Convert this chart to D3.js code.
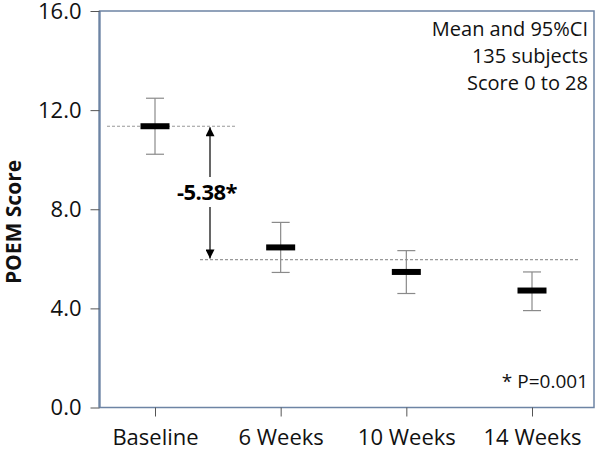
<!DOCTYPE html>
<html><head><meta charset="utf-8">
<script src="https://cdn.jsdelivr.net/npm/d3@7"></script>
<style>body{margin:0;background:#fff}svg{display:block}</style>
</head><body>
<svg id="c" width="600" height="451"></svg>
<script>
const categories = ["Baseline", "6 Weeks", "10 Weeks", "14 Weeks"];
const means = [11.35, 6.46, 5.47, 4.72];
const ciLow = [10.22, 5.45, 4.60, 3.91];
const ciHigh = [12.48, 7.47, 6.33, 5.47];
const yTicks = [0, 4, 8, 12, 16];
const diffLabel = "-5.38*";
const notes = ["Mean and 95%CI", "135 subjects", "Score 0 to 28"];
const pNote = "* P=0.001";

const svg = d3.select("#c");
const font = "'Open Sans', sans-serif";
const L = 99.5, R = 594, T = 11, B = 407.5;
const x = d3.scalePoint().domain(categories).range([155, 532]);
const y = d3.scaleLinear().domain([0, 16]).range([B, T]);

// frame
svg.append("rect").attr("x", L).attr("y", T).attr("width", R - L).attr("height", B - T)
  .attr("fill", "none").attr("stroke", "#6d84a4").attr("stroke-width", 1.5);
svg.append("line").attr("x1", L).attr("x2", L).attr("y1", T).attr("y2", B)
  .attr("stroke", "#6d84a4").attr("stroke-width", 2.2);

// y axis
const ya = svg.append("g").attr("transform", `translate(${L},0)`)
  .call(d3.axisLeft(y).tickValues(yTicks).tickFormat(d3.format(".1f")).tickSize(9).tickPadding(9));
ya.select(".domain").remove();
ya.selectAll("line").attr("stroke", "#555");
ya.selectAll("text").attr("font-family", font).attr("font-size", 22).attr("fill", "#111");

// x axis
const xa = svg.append("g").attr("transform", `translate(0,${B})`)
  .call(d3.axisBottom(x).tickSize(9).tickPadding(13));
xa.select(".domain").remove();
xa.selectAll("line").attr("stroke", "#555");
xa.selectAll("text").attr("font-family", font).attr("font-size", 22).attr("fill", "#111");

// y title
svg.append("text").attr("transform", "translate(21,222) rotate(-90)")
  .attr("text-anchor", "middle").attr("font-family", font).attr("font-weight", "bold")
  .attr("font-size", 21).attr("fill", "#111").text("POEM Score");

// dashed reference lines
const afterVal = means[0] + parseFloat(diffLabel);
svg.append("line").attr("x1", 107).attr("x2", 237).attr("y1", y(means[0])).attr("y2", y(means[0]))
  .attr("stroke", "#999").attr("stroke-width", 1.2).attr("stroke-dasharray", "3,2");
svg.append("line").attr("x1", 200).attr("x2", 580).attr("y1", y(afterVal)).attr("y2", y(afterVal))
  .attr("stroke", "#999").attr("stroke-width", 1.2).attr("stroke-dasharray", "3,2");

// error bars
const g = svg.append("g");
categories.forEach((c, i) => {
  const cx = x(c);
  g.append("line").attr("x1", cx).attr("x2", cx).attr("y1", y(ciLow[i])).attr("y2", y(ciHigh[i]))
    .attr("stroke", "#8a8a8a").attr("stroke-width", 1.2);
  [ciLow[i], ciHigh[i]].forEach(v => {
    g.append("line").attr("x1", cx - 9).attr("x2", cx + 9).attr("y1", y(v)).attr("y2", y(v))
      .attr("stroke", "#8a8a8a").attr("stroke-width", 1.2);
  });
  g.append("rect").attr("x", cx - 14.5).attr("y", y(means[i]) - 3).attr("width", 29).attr("height", 6)
    .attr("fill", "#000");
});

// arrow
const ax = 210;
const defs = svg.append("defs");
defs.append("marker").attr("id", "ah").attr("viewBox", "0 0 10 10").attr("refX", 10).attr("refY", 5)
  .attr("markerWidth", 14).attr("markerHeight", 9).attr("markerUnits", "userSpaceOnUse")
  .attr("orient", "auto").append("path").attr("d", "M0,0 L10,5 L0,10 Z").attr("fill", "#000");
const y1 = y(means[0]), y2 = y(afterVal);
svg.append("line").attr("x1", ax).attr("x2", ax).attr("y1", 177).attr("y2", y1 + 1)
  .attr("stroke", "#000").attr("stroke-width", 1.2).attr("marker-end", "url(#ah)");
svg.append("line").attr("x1", ax).attr("x2", ax).attr("y1", 207).attr("y2", y2 - 1)
  .attr("stroke", "#000").attr("stroke-width", 1.2).attr("marker-end", "url(#ah)");
svg.append("text").attr("x", 207).attr("y", 200).attr("text-anchor", "middle")
  .attr("font-family", font).attr("font-weight", "bold").attr("font-size", 22).attr("fill", "#000")
  .attr("letter-spacing", -0.5).text(diffLabel);

// notes
notes.forEach((t, i) => {
  svg.append("text").attr("x", 588).attr("y", 36 + i * 27).attr("text-anchor", "end")
    .attr("font-family", font).attr("font-size", 20).attr("fill", "#111").text(t);
});
svg.append("text").attr("x", 588).attr("y", 388).attr("text-anchor", "end")
  .attr("font-family", font).attr("font-size", 19).attr("fill", "#111").text(pNote);
</script>
</body></html>
